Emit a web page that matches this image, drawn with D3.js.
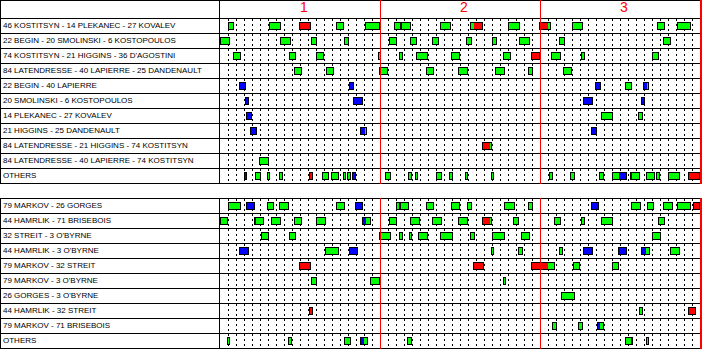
<!DOCTYPE html>
<html>
<head>
<meta charset="utf-8">
<script src="https://cdn.jsdelivr.net/npm/d3@7"></script>
<style>
  html, body { margin: 0; padding: 0; background: #fff; }
  svg { display: block; }
  text { font-family: "Liberation Sans", Arial, sans-serif; }
</style>
</head>
<body>
<script>
// ---------------- DATA ----------------
const periods = ["1", "2", "3"];

const forwardLines = [
  "46 KOSTITSYN - 14 PLEKANEC - 27 KOVALEV",
  "22 BEGIN - 20 SMOLINSKI - 6 KOSTOPOULOS",
  "74 KOSTITSYN - 21 HIGGINS - 36 D'AGOSTINI",
  "84 LATENDRESSE - 40 LAPIERRE - 25 DANDENAULT",
  "22 BEGIN - 40 LAPIERRE",
  "20 SMOLINSKI - 6 KOSTOPOULOS",
  "14 PLEKANEC - 27 KOVALEV",
  "21 HIGGINS - 25 DANDENAULT",
  "84 LATENDRESSE - 21 HIGGINS - 74 KOSTITSYN",
  "84 LATENDRESSE - 40 LAPIERRE - 74 KOSTITSYN",
  "OTHERS"
];

const defensePairs = [
  "79 MARKOV - 26 GORGES",
  "44 HAMRLIK - 71 BRISEBOIS",
  "32 STREIT - 3 O'BYRNE",
  "44 HAMRLIK - 3 O'BYRNE",
  "79 MARKOV - 32 STREIT",
  "79 MARKOV - 3 O'BYRNE",
  "26 GORGES - 3 O'BYRNE",
  "44 HAMRLIK - 32 STREIT",
  "79 MARKOV - 71 BRISEBOIS",
  "OTHERS"
];

// Shifts: [row, start (game minutes), end, strength, optional change time, strength after change]
const forwardShifts = [
  [0,1.04,1.79,"EV"],[0,6.17,7.58,"EV"],[0,9.92,11.33,"PP"],[0,14.54,15.54,"EV"],[0,18.17,19.96,"EV"],
  [0,21.75,22.58,"EV"],[0,22.58,23.83,"EV"],[0,27.5,28.92,"EV"],[0,31.29,32.92,"EV",31.71,"PP"],
  [0,36.04,37.54,"EV"],[0,39.92,41.33,"PP",41.04,"EV"],[0,44,45.33,"EV"],[0,54.63,55.58,"EV"],[0,57.17,58.83,"EV"],
  [1,0,1.21,"EV"],[1,7.5,8.88,"EV"],[1,11.42,12.17,"EV"],[1,15.5,16.08,"EV"],[1,21.17,22.08,"EV"],
  [1,23.75,24.58,"EV"],[1,26.5,27.33,"EV"],[1,30.75,31.46,"EV"],[1,34.04,34.58,"EV"],[1,37.38,38.71,"EV"],
  [1,42.38,43.08,"EV"],[1,55.38,56.33,"EV"],
  [2,1.63,2.58,"EV"],[2,8.63,9.46,"EV"],[2,12,12.96,"EV"],[2,19.75,20.08,"EV"],[2,22.38,22.83,"EV"],
  [2,24.5,25.96,"EV"],[2,28.88,30,"EV"],[2,35.38,36.33,"EV"],[2,38.88,40,"PP"],[2,41.38,42.58,"EV"],
  [2,45.13,45.58,"EV"],[2,54,54.83,"EV"],
  [3,9.25,10.21,"EV"],[3,13.25,14.21,"EV"],[3,19.88,20.96,"EV"],[3,25.75,26.71,"EV"],[3,29.75,31,"EV"],
  [3,34.38,35.58,"EV"],[3,38.5,39.08,"EV"],[3,42.88,43.96,"EV"],
  [4,2.42,3.21,"SH"],[4,16.17,16.71,"SH"],[4,46.88,47.58,"SH"],[4,50.67,51.46,"EV"],[4,52.92,53.58,"SH",53.33,"EV"],
  [5,3.13,3.58,"SH"],[5,16.67,17.83,"SH"],[5,45.42,46.58,"SH"],[5,52.63,53.08,"SH"],
  [6,3.25,3.96,"SH"],[6,47.67,49.17,"EV"],[6,52.25,52.92,"EV"],
  [7,3.79,4.58,"SH"],[7,17.54,18.42,"SH",18.17,"EV"],[7,46.42,47.08,"SH"],
  [8,32.79,34.04,"PP",33.71,"EV"],
  [9,4.92,6.08,"EV"],
  [10,3.04,3.33,"SH"],[10,4.42,5.08,"EV"],[10,5.92,6.29,"EV"],[10,7.38,7.83,"EV"],[10,11.17,11.58,"PP"],
  [10,12.75,13.58,"EV"],[10,13.88,14.83,"EV"],[10,15.42,15.75,"EV"],[10,15.92,16.38,"EV"],[10,16.46,16.96,"SH"],
  [10,20.67,21.33,"EV"],[10,23.54,23.96,"EV"],[10,24.38,24.71,"EV"],[10,27.04,27.71,"EV"],[10,28.63,29.08,"EV"],
  [10,30.67,31,"EV"],[10,33.88,34.21,"EV"],[10,41.13,41.58,"EV"],[10,43.75,44.33,"EV"],[10,47.42,47.96,"EV"],
  [10,49.04,50.83,"EV",49.83,"SH"],[10,51.29,52.46,"SH",51.46,"EV"],[10,53.25,54.33,"EV"],[10,54.5,54.96,"EV"],
  [10,56.04,57.46,"EV"],[10,58.54,60,"PP"]
];

const defenseShifts = [
  [0,1.04,2.58,"EV"],[0,3.29,4.33,"SH"],[0,5.92,6.71,"EV"],[0,7.42,8.67,"EV"],[0,14.54,15.67,"EV"],
  [0,16.92,17.83,"SH"],[0,22.04,22.5,"EV"],[0,22.5,23.58,"EV"],[0,25.79,26.71,"EV"],[0,28.92,29.96,"EV"],
  [0,30.92,31.46,"EV"],[0,35.54,36.83,"EV"],[0,38.54,39.08,"EV"],[0,46.42,47.42,"SH"],[0,51.42,52.58,"EV"],
  [0,53.42,54.29,"EV"],[0,55.42,56.58,"EV"],[0,57.17,58.83,"EV"],[0,59.17,60,"PP"],
  [1,0,1.04,"EV"],[1,4.21,5.46,"SH",4.46,"EV"],[1,6.38,7.58,"EV"],[1,9.29,10.21,"EV"],[1,12.04,13.29,"EV"],
  [1,17.79,18.92,"SH",18.21,"EV"],[1,21.17,22.17,"EV"],[1,23.79,24.96,"EV"],[1,26.54,27.71,"EV"],
  [1,29.79,31.04,"EV"],[1,32.79,34.04,"PP",33.71,"EV"],[1,36.67,37.42,"EV"],[1,41.79,42.58,"EV"],
  [1,45.17,45.58,"EV"],[1,47.67,49.17,"EV"],[1,54.79,55.58,"EV"],
  [2,5.17,6.08,"EV"],[2,8.67,9.46,"EV"],[2,19.92,21.33,"EV"],[2,22.42,22.83,"EV"],[2,23.67,23.96,"EV"],
  [2,24.79,25.96,"EV"],[2,27.54,29.08,"EV"],[2,31.29,31.83,"EV"],[2,34.04,35.58,"EV"],[2,37.67,38.71,"EV"],
  [2,54.04,55.08,"EV"],
  [3,2.42,3.58,"SH"],[3,13.17,14.83,"EV"],[3,16.17,17.21,"SH"],[3,33.92,34.21,"EV"],[3,37.29,37.83,"EV"],
  [3,42.42,42.83,"EV"],[3,45.42,46.58,"SH"],[3,49.79,50.83,"SH"],[3,52.67,53.71,"SH",53.29,"EV"],
  [3,56.29,57.46,"EV"],
  [4,9.92,11.33,"PP"],[4,31.67,32.96,"PP"],[4,38.92,41.83,"PP",40.96,"EV"],[4,44.17,45.04,"EV"],[4,49.04,49.92,"EV"],
  [5,11.42,12.17,"EV"],[5,18.79,20.04,"EV"],[5,35.42,35.71,"EV"],
  [6,42.67,44.33,"EV"],
  [7,11.17,11.58,"PP"],[7,52.42,52.92,"EV"],[7,58.54,59.46,"PP"],
  [8,41.54,42.08,"EV"],[8,44.79,45.33,"EV"],[8,47.17,47.96,"SH",47.46,"EV"],
  [9,0.92,1.17,"EV"],[9,8.54,8.96,"EV"],[9,15.54,16.33,"EV"],[9,17.54,18.46,"SH",17.96,"EV"],
  [9,23.38,23.96,"EV"],[9,50.67,51.58,"EV",51.33,"SH"],[9,53.29,53.58,"EV"]
];

// ---------------- LAYOUT / STYLE ----------------
const W = 702, H = 349;
const labelW = 219;
const rowH = 15;
const colors = { EV: "#00ff00", PP: "#ff0000", SH: "#0000ff" };

const svg = d3.select("body").append("svg")
  .attr("width", W).attr("height", H)
  .attr("shape-rendering", "crispEdges");

const x = d3.scaleLinear().domain([0, 60]).range([220, 700]);
const minutes = d3.range(1, 60).filter(m => m % 20 !== 0);

// top border + header row
svg.append("line").attr("x1", 0).attr("x2", W).attr("y1", 0.5).attr("y2", 0.5).attr("stroke", "#000");
svg.append("line").attr("x1", 0.5).attr("x2", 0.5).attr("y1", 0).attr("y2", 18).attr("stroke", "#000");
svg.append("line").attr("x1", labelW + 0.5).attr("x2", labelW + 0.5).attr("y1", 0).attr("y2", 18).attr("stroke", "#000");

svg.selectAll("text.period").data(periods).enter().append("text")
  .attr("class", "period")
  .attr("x", (d, i) => x(i * 20 + 10) + 4)
  .attr("y", 12)
  .attr("text-anchor", "middle")
  .attr("font-size", 14)
  .attr("fill", "#ff0000")
  .text(d => d);

function panel(labels, shifts, top) {
  const g = svg.append("g");
  const bottom = top + labels.length * rowH;
  const y = d3.scaleBand().domain(d3.range(labels.length)).range([top, bottom]);

  // dotted minute grid
  g.selectAll("line.grid").data(minutes).enter().append("line")
    .attr("x1", d => x(d) + 0.5).attr("x2", d => x(d) + 0.5)
    .attr("y1", top + 1).attr("y2", bottom)
    .attr("stroke", "#000").attr("stroke-dasharray", "2,3");

  // row lines
  g.selectAll("line.row").data(d3.range(labels.length + 1)).enter().append("line")
    .attr("x1", 0).attr("x2", 701)
    .attr("y1", d => top + d * rowH + 0.5).attr("y2", d => top + d * rowH + 0.5)
    .attr("stroke", "#000");

  // vertical borders
  [0.5, labelW + 0.5].forEach(xx => {
    g.append("line").attr("x1", xx).attr("x2", xx).attr("y1", top).attr("y2", bottom + 1).attr("stroke", "#000");
  });

  // labels
  g.selectAll("text.lbl").data(labels).enter().append("text")
    .attr("x", 3).attr("y", (d, i) => y(i) + 10)
    .attr("font-size", 8).attr("fill", "#000")
    .text(d => d);

  // shifts
  const sg = g.selectAll("g.shift").data(shifts).enter().append("g");
  sg.append("rect")
    .attr("x", d => Math.round(x(d[1])))
    .attr("width", d => Math.max(3, Math.round(x(d[2])) - Math.round(x(d[1]))))
    .attr("y", d => y(d[0]) + 4)
    .attr("height", 8)
    .attr("fill", "#000");
  sg.each(function(d) {
    const x0 = Math.round(x(d[1])), x1 = Math.max(x0 + 3, Math.round(x(d[2])));
    const parts = d.length > 4
      ? [[x0, Math.round(x(d[4])), d[3]], [Math.round(x(d[4])), x1, d[5]]]
      : [[x0, x1, d[3]]];
    parts.forEach((p, k) => {
      const a = k === 0 ? p[0] + 1 : p[0];
      const b = k === parts.length - 1 ? p[1] - 1 : p[1];
      if (b > a) {
        d3.select(this).append("rect")
          .attr("x", a).attr("width", b - a)
          .attr("y", y(d[0]) + 5).attr("height", 6)
          .attr("fill", colors[p[2]]);
      }
    });
  });

  // period lines (red) on top
  g.selectAll("line.per").data([20, 40]).enter().append("line")
    .attr("x1", d => x(d) + 0.5).attr("x2", d => x(d) + 0.5)
    .attr("y1", top).attr("y2", bottom + 1)
    .attr("stroke", "#ff0000");
  g.append("line").attr("x1", 701).attr("x2", 701).attr("y1", top).attr("y2", bottom + 1)
    .attr("stroke", "#ff0000").attr("stroke-width", 2);
  return g;
}

// header period lines
[20, 40].forEach(m => {
  svg.append("line").attr("x1", x(m) + 0.5).attr("x2", x(m) + 0.5).attr("y1", 0).attr("y2", 18).attr("stroke", "#ff0000");
});
svg.append("line").attr("x1", 701).attr("x2", 701).attr("y1", 0).attr("y2", 18).attr("stroke", "#ff0000").attr("stroke-width", 2);

panel(forwardLines, forwardShifts, 18);
panel(defensePairs, defenseShifts, 198);
</script>
</body>
</html>
